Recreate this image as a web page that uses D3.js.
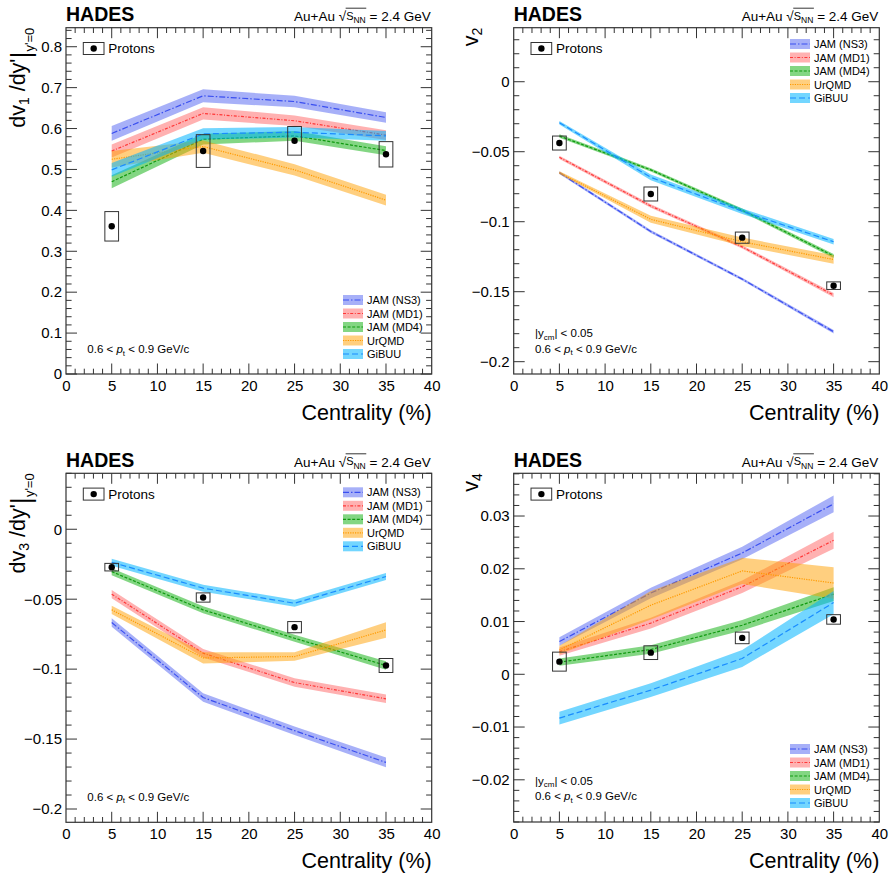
<!DOCTYPE html>
<html><head><meta charset="utf-8">
<script src="https://cdn.jsdelivr.net/npm/d3@7/dist/d3.min.js"></script>
<style>body{margin:0;background:#fff} svg{font-family:"Liberation Sans",Arial,Helvetica,sans-serif}</style>
</head><body><svg id="c" width="890" height="873"></svg>
<script>
// ---------------- data ----------------
const centrality = [5, 15, 25, 35];
const modelNames = ["JAM (NS3)", "JAM (MD1)", "JAM (MD4)", "UrQMD", "GiBUU"];
const xTickLabels = [0, 5, 10, 15, 20, 25, 30, 35, 40];

// panel 1 : dv1/dy'
const v1Protons    = [0.361, 0.545, 0.570, 0.537];
const v1ProtonsSys = [0.036, 0.040, 0.035, 0.031];
const v1NS3   = [0.588, 0.680, 0.666, 0.627], v1NS3Err   = [0.018, 0.016, 0.014, 0.013];
const v1MD1   = [0.545, 0.637, 0.619, 0.584], v1MD1Err   = [0.016, 0.015, 0.013, 0.012];
const v1MD4   = [0.470, 0.574, 0.582, 0.546], v1MD4Err   = [0.016, 0.013, 0.012, 0.011];
const v1UrQMD = [0.525, 0.556, 0.499, 0.425], v1UrQMDErr = [0.020, 0.015, 0.014, 0.013];
const v1GiBUU = [0.499, 0.587, 0.591, 0.582], v1GiBUUErr = [0.017, 0.014, 0.013, 0.012];
const v1YTicks = [0, 0.1, 0.2, 0.3, 0.4, 0.5, 0.6, 0.7, 0.8];

// panel 2 : v2
const v2Protons    = [-0.0438, -0.0802, -0.1114, -0.1457];
const v2ProtonsSys = [0.005, 0.005, 0.004, 0.0027];
const v2NS3   = [-0.065, -0.107, -0.141, -0.1786],  v2NS3Err   = [0.001, 0.001, 0.001, 0.0012];
const v2MD1   = [-0.054, -0.0888, -0.118, -0.1524], v2MD1Err   = [0.0012, 0.0012, 0.0012, 0.0015];
const v2MD4   = [-0.0388, -0.063, -0.0918, -0.1245], v2MD4Err  = [0.0012, 0.0012, 0.0012, 0.0015];
const v2UrQMD = [-0.065, -0.0983, -0.1143, -0.127], v2UrQMDErr = [0.001, 0.0025, 0.003, 0.003];
const v2GiBUU = [-0.0293, -0.0683, -0.0925, -0.1143], v2GiBUUErr = [0.0012, 0.002, 0.002, 0.002];
const v2YTicks = [0, -0.05, -0.1, -0.15, -0.2];

// panel 3 : dv3/dy'
const v3Protons    = [-0.0271, -0.0488, -0.070, -0.0974];
const v3ProtonsSys = [0.0027, 0.0033, 0.004, 0.005];
const v3NS3   = [-0.0667, -0.1203, -0.144, -0.1667], v3NS3Err   = [0.003, 0.003, 0.003, 0.0035];
const v3MD1   = [-0.0464, -0.0886, -0.1096, -0.1212], v3MD1Err  = [0.003, 0.003, 0.003, 0.003];
const v3MD4   = [-0.0303, -0.0576, -0.0779, -0.0974], v3MD4Err  = [0.0025, 0.0025, 0.0025, 0.003];
const v3UrQMD = [-0.0576, -0.092, -0.091, -0.072],   v3UrQMDErr = [0.003, 0.004, 0.003, 0.0055];
const v3GiBUU = [-0.0236, -0.0421, -0.0529, -0.0338], v3GiBUUErr = [0.0025, 0.0025, 0.0025, 0.0025];
const v3YTicks = [0, -0.05, -0.1, -0.15, -0.2];

// panel 4 : v4
const v4Protons    = [0.0024, 0.0041, 0.0069, 0.0104];
const v4ProtonsSys = [0.0018, 0.0013, 0.0011, 0.0009];
const v4NS3   = [0.0062, 0.0154, 0.0230, 0.0323], v4NS3Err   = [0.0008, 0.001, 0.0012, 0.0016];
const v4MD1   = [0.0043, 0.0097, 0.0166, 0.0254], v4MD1Err   = [0.0008, 0.001, 0.0012, 0.0016];
const v4MD4   = [0.0023, 0.0047, 0.0093, 0.0152], v4MD4Err   = [0.0007, 0.0008, 0.001, 0.0013];
const v4UrQMD = [0.0046, 0.0131, 0.0196, 0.0173], v4UrQMDErr = [0.0008, 0.0027, 0.0025, 0.0030];
const v4GiBUU = [-0.0083, -0.0030, 0.0030, 0.0136], v4GiBUUErr = [0.0012, 0.0013, 0.0016, 0.0022];
const v4YTicks = [0.03, 0.02, 0.01, 0, -0.01, -0.02];

// ---------------- styles ----------------
const bandFill  = ["rgba(60,80,240,0.45)", "rgba(255,60,60,0.40)", "rgba(30,180,30,0.55)", "rgba(255,160,0,0.50)", "rgba(0,180,255,0.55)"];
const lineColor = ["#3a4ff0", "#ff3838", "#109a10", "#ff9a00", "#1a8cff"];
const lineDash  = ["6,2,1.5,2", "3,1.6,1,1.6", "3,1.6", "1.2,1.2", "6,3"];

const svg = d3.select("#c");

const panels = [
  {L:66, R:431.7, T:27.7, B:374, dom:[0, 0.8465], ticks:v1YTicks, minor:0.02, kind:"dv1",
   prot:v1Protons, sys:v1ProtonsSys,
   models:[[v1NS3,v1NS3Err],[v1MD1,v1MD1Err],[v1MD4,v1MD4Err],[v1UrQMD,v1UrQMDErr],[v1GiBUU,v1GiBUUErr]],
   legX:343, legY:300, ycm:false, annY:353.3},
  {L:513.7, R:879.3, T:27.7, B:374, dom:[-0.2088, 0.0386], ticks:v2YTicks, minor:0.01, kind:"v2",
   prot:v2Protons, sys:v2ProtonsSys,
   models:[[v2NS3,v2NS3Err],[v2MD1,v2MD1Err],[v2MD4,v2MD4Err],[v2UrQMD,v2UrQMDErr],[v2GiBUU,v2GiBUUErr]],
   legX:790, legY:44, ycm:true, annY:352.7},
  {L:66, R:431.7, T:473.3, B:822.3, dom:[-0.2095, 0.04], ticks:v3YTicks, minor:0.01, kind:"dv3",
   prot:v3Protons, sys:v3ProtonsSys,
   models:[[v3NS3,v3NS3Err],[v3MD1,v3MD1Err],[v3MD4,v3MD4Err],[v3UrQMD,v3UrQMDErr],[v3GiBUU,v3GiBUUErr]],
   legX:343, legY:492.3, ycm:false, annY:800.7},
  {L:513.7, R:879.3, T:473.3, B:822, dom:[-0.028, 0.0381], ticks:v4YTicks, minor:0.002, kind:"v4",
   prot:v4Protons, sys:v4ProtonsSys,
   models:[[v4NS3,v4NS3Err],[v4MD1,v4MD1Err],[v4MD4,v4MD4Err],[v4UrQMD,v4UrQMDErr],[v4GiBUU,v4GiBUUErr]],
   legX:790, legY:749, ycm:true, annY:800}
];

const fmt = d3.format("~g");
const frameColor = "#333";

panels.forEach(p => {
  const g = svg.append("g");
  const x = d3.scaleLinear().domain([0, 40]).range([p.L, p.R]);
  const y = d3.scaleLinear().domain(p.dom).range([p.B, p.T]);

  // bands + lines
  p.models.forEach((m, i) => {
    const vals = m[0], errs = m[1];
    const pts = centrality.map((c, k) => ({c, v: vals[k], e: errs[k]}));
    const area = d3.area().x(d => x(d.c)).y0(d => y(d.v - d.e)).y1(d => y(d.v + d.e));
    g.append("path").attr("d", area(pts)).attr("fill", bandFill[i]).attr("stroke", "none");
    const line = d3.line().x(d => x(d.c)).y(d => y(d.v));
    g.append("path").attr("d", line(pts)).attr("fill", "none")
      .attr("stroke", lineColor[i]).attr("stroke-width", 1.2).attr("stroke-dasharray", lineDash[i]);
  });

  // data points with systematic boxes
  centrality.forEach((c, k) => {
    const v = p.prot[k], s = p.sys[k];
    g.append("rect").attr("x", x(c - 0.75)).attr("width", x(c + 0.75) - x(c - 0.75))
      .attr("y", y(v + s)).attr("height", y(v - s) - y(v + s))
      .attr("fill", "none").attr("stroke", frameColor).attr("stroke-width", 1);
    g.append("circle").attr("cx", x(c)).attr("cy", y(v)).attr("r", 3.2).attr("fill", "#000");
  });

  // frame
  g.append("rect").attr("x", p.L).attr("y", p.T).attr("width", p.R - p.L).attr("height", p.B - p.T)
    .attr("fill", "none").attr("stroke", frameColor).attr("stroke-width", 1.2);

  // x ticks (bottom + top)
  const xMinor = d3.range(0, 41, 1);
  xMinor.forEach(v => {
    const major = v % 5 === 0;
    const len = major ? 10.5 : 5.3;
    if (v === 0 || v === 40) return;
    g.append("line").attr("x1", x(v)).attr("x2", x(v)).attr("y1", p.B).attr("y2", p.B - len).attr("stroke", frameColor).attr("stroke-width", 1);
    g.append("line").attr("x1", x(v)).attr("x2", x(v)).attr("y1", p.T).attr("y2", p.T + len).attr("stroke", frameColor).attr("stroke-width", 1);
  });
  const xAxis = d3.axisBottom(x).tickValues(xTickLabels).tickSize(0).tickPadding(0).tickFormat(d3.format("d"));
  const xa = g.append("g").attr("transform", `translate(0,${p.B})`).call(xAxis);
  xa.select(".domain").remove();
  xa.selectAll("text").attr("font-size", 15).attr("font-family", "Liberation Sans, Arial, sans-serif")
    .attr("fill", "#000").attr("dy", null).attr("y", 17).style("dominant-baseline", "alphabetic");

  // y ticks (left + right)
  const lo = Math.ceil(p.dom[0] / p.minor - 1e-6), hi = Math.floor(p.dom[1] / p.minor + 1e-6);
  for (let k = lo; k <= hi; k++) {
    const v = k * p.minor;
    const isMajor = p.ticks.some(t => Math.abs(t - v) < p.minor * 0.01);
    const len = isMajor ? 11 : 5.6;
    g.append("line").attr("x1", p.L).attr("x2", p.L + len).attr("y1", y(v)).attr("y2", y(v)).attr("stroke", frameColor).attr("stroke-width", 1);
    g.append("line").attr("x1", p.R).attr("x2", p.R - len).attr("y1", y(v)).attr("y2", y(v)).attr("stroke", frameColor).attr("stroke-width", 1);
  }
  const yAxis = d3.axisLeft(y).tickValues(p.ticks).tickSize(0).tickPadding(4).tickFormat(fmt);
  const ya = g.append("g").attr("transform", `translate(${p.L},0)`).call(yAxis);
  ya.select(".domain").remove();
  ya.selectAll("text").attr("font-size", 15).attr("font-family", "Liberation Sans, Arial, sans-serif").attr("fill", "#000");

  // x axis title
  g.append("text").attr("x", p.R).attr("y", p.B + 46).attr("text-anchor", "end")
    .attr("font-size", 21.5).text("Centrality (%)");

  // y axis title
  const yt = g.append("text").attr("text-anchor", "end");
  if (p.kind === "dv1" || p.kind === "dv3") {
    yt.attr("transform", `translate(${p.L - 41},${p.T}) rotate(-90)`);
    yt.append("tspan").attr("font-size", 21.5).text("dv");
    yt.append("tspan").attr("font-size", 14).attr("dy", 4).text(p.kind === "dv1" ? "1" : "3");
    yt.append("tspan").attr("font-size", 21.5).attr("dy", -4).text(" /dy'");
    yt.append("tspan").attr("font-size", 27).attr("dy", 5).text("|");
    yt.append("tspan").attr("font-size", 13).attr("dy", 4).text("y'=0");
  } else {
    yt.attr("transform", `translate(${p.L - 35.5},${p.T}) rotate(-90)`);
    yt.append("tspan").attr("font-size", 21.5).text("v");
    yt.append("tspan").attr("font-size", 14).attr("dy", 4).text(p.kind === "v2" ? "2" : "4");
  }

  // header
  g.append("text").attr("x", p.L).attr("y", p.T - 6.5).attr("font-size", 19.5).attr("font-weight", "bold").text("HADES");
  const hd = g.append("text").attr("x", p.R - 1).attr("y", p.T - 6.5).attr("text-anchor", "end").attr("font-size", 13.5);
  hd.append("tspan").text("Au+Au ");
  hd.append("tspan").text("\u221A");
  const sN = hd.append("tspan").attr("font-size", 11).attr("dy", -1.5).text("S");
  const nn = hd.append("tspan").attr("font-size", 8.5).attr("dy", 3.5).text("NN");
  hd.append("tspan").attr("dy", -2).text(" = 2.4 GeV");
  try {
    const b1 = sN.node().getBBox(), b2 = nn.node().getBBox();
    g.append("line").attr("x1", b1.x - 0.5).attr("x2", b2.x + b2.width + 0.5)
      .attr("y1", p.T - 19.5).attr("y2", p.T - 19.5).attr("stroke", "#000").attr("stroke-width", 0.8);
  } catch (e) {}

  // Protons legend
  const bx = p.L + 17.3, by = p.T + 14.8;
  g.append("rect").attr("x", bx).attr("y", by).attr("width", 20.7).attr("height", 12)
    .attr("fill", "none").attr("stroke", frameColor).attr("stroke-width", 1);
  g.append("circle").attr("cx", bx + 10.4).attr("cy", by + 6).attr("r", 3.2).attr("fill", "#000");
  g.append("text").attr("x", bx + 25).attr("y", by + 10.5).attr("font-size", 13.5).text("Protons");

  // model legend
  modelNames.forEach((name, i) => {
    const cy = p.legY + i * 13.5;
    g.append("rect").attr("x", p.legX).attr("y", cy - 5).attr("width", 20).attr("height", 10).attr("fill", bandFill[i]);
    g.append("line").attr("x1", p.legX).attr("x2", p.legX + 20).attr("y1", cy).attr("y2", cy)
      .attr("stroke", lineColor[i]).attr("stroke-width", 1.2).attr("stroke-dasharray", lineDash[i]);
    g.append("text").attr("x", p.legX + 24).attr("y", cy + 4).attr("font-size", 11).text(name);
  });

  // annotations
  const ax = p.L + 21.3;
  if (p.ycm) {
    const t1 = g.append("text").attr("x", ax).attr("y", p.annY - 15.5).attr("font-size", 11.5);
    t1.append("tspan").text("|y");
    t1.append("tspan").attr("font-size", 8).attr("dy", 2.5).text("cm");
    t1.append("tspan").attr("dy", -2.5).text("| < 0.05");
  }
  const t2 = g.append("text").attr("x", ax).attr("y", p.annY).attr("font-size", 11.5);
  t2.append("tspan").text("0.6 < ");
  t2.append("tspan").attr("font-style", "italic").text("p");
  t2.append("tspan").attr("font-size", 8).attr("dy", 2.5).text("t");
  t2.append("tspan").attr("dy", -2.5).text(" < 0.9 GeV/c");
});
</script></body></html>
